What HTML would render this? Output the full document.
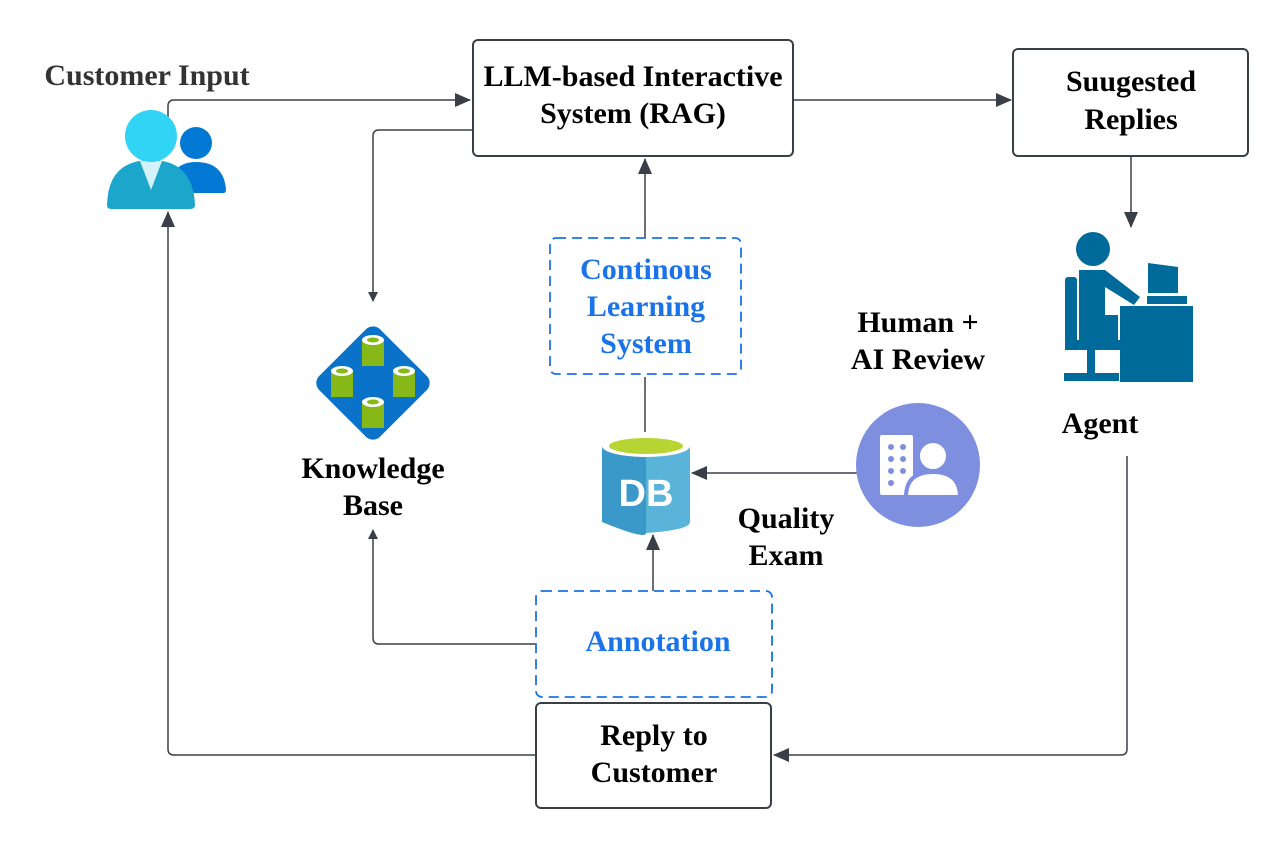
<!DOCTYPE html>
<html><head><meta charset="utf-8"><style>
body{margin:0;background:#fff;}
svg text{font-family:"Liberation Serif",serif;font-weight:bold;font-size:30px;text-anchor:middle;fill:#000;}
</style></head><body>
<svg width="1288" height="850" viewBox="0 0 1288 850" xmlns="http://www.w3.org/2000/svg">
<defs>
<marker id="a" markerWidth="10" markerHeight="10" refX="9" refY="5" orient="auto" markerUnits="userSpaceOnUse" viewBox="0 0 10 10">
<path d="M0,0 L10,5 L0,10 z" fill="#3a3f47"/></marker>
<marker id="b" markerWidth="16" markerHeight="14" refX="15" refY="7" orient="auto" markerUnits="userSpaceOnUse" viewBox="0 0 16 14">
<path d="M0,0 L16,7 L0,14 z" fill="#3a3f47"/></marker>
</defs>
<g fill="none" stroke="#3a3f47" stroke-width="1.5">
<path d="M168,133 V106 Q168,100 174,100 H470" marker-end="url(#b)"/>
<path d="M793,100 H1011" marker-end="url(#b)"/>
<path d="M1131,156 V227" marker-end="url(#b)"/>
<path d="M1127,456 V749 Q1127,755 1121,755 H774" marker-end="url(#b)"/>
<path d="M536,755 H174 Q168,755 168,749 V212" marker-end="url(#b)"/>
<path d="M473,130 H379 Q373,130 373,136 V301" marker-end="url(#a)"/>
<path d="M645,238 V159" marker-end="url(#b)"/>
<path d="M645,432 V377"/>
<path d="M857,473 H692" marker-end="url(#b)"/>
<path d="M653,591 V535" marker-end="url(#b)"/>
<path d="M536,644 H379 Q373,644 373,638 V530" marker-end="url(#a)"/>
</g>
<g fill="#fff" stroke="#3a3f47" stroke-width="2">
<rect x="473" y="40" width="320" height="116" rx="5"/>
<rect x="1013" y="49" width="235" height="107" rx="5"/>
<rect x="536" y="703" width="235" height="105" rx="5"/>
</g>
<g fill="#fff" stroke="#1a73e8" stroke-width="1.8" stroke-dasharray="10,6">
<rect x="550" y="238" width="191" height="136" rx="6"/>
<rect x="536" y="591" width="236" height="106" rx="6"/>
</g>
<text x="633" y="86">LLM-based Interactive</text>
<text x="633" y="123">System (RAG)</text>
<text x="1131" y="91">Suugested</text>
<text x="1131" y="129">Replies</text>
<text x="654" y="745">Reply to</text>
<text x="654" y="782">Customer</text>
<text x="646" y="279" style="fill:#1a73e8">Continous</text>
<text x="646" y="316" style="fill:#1a73e8">Learning</text>
<text x="646" y="353" style="fill:#1a73e8">System</text>
<text x="658" y="651" style="fill:#1a73e8">Annotation</text>
<text x="147" y="85" style="fill:#333">Customer Input</text>
<text x="918" y="332">Human +</text>
<text x="918" y="369">AI Review</text>
<text x="1100" y="433">Agent</text>
<text x="373" y="478">Knowledge</text>
<text x="373" y="515">Base</text>
<text x="786" y="528">Quality</text>
<text x="786" y="565">Exam</text>
<!-- customer icon -->
<circle cx="196" cy="143" r="16" fill="#0078d4"/>
<path d="M168,192 Q170,162 196,162 Q224,162 226,190 Q226,193 223,193 H170 Z" fill="#0078d4"/>
<path d="M107,205 Q108,160 151,160 Q193,160 195,205 Q195,209 190,209 H111 Q107,209 107,205 Z" fill="#1ca6cc"/>
<path d="M140,161 H162 L151,190 Z" fill="#d4f2fa"/>
<circle cx="151" cy="136" r="26" fill="#32d4f5"/>
<!-- KB diamond -->
<rect x="330" y="340" width="86" height="86" rx="10" fill="#0a72c9" transform="rotate(45 373 383)"/>
<g fill="#86b918">
<rect x="362" y="340" width="22" height="26"/><rect x="331" y="371" width="22" height="26"/>
<rect x="393" y="371" width="22" height="26"/><rect x="362" y="402" width="22" height="26"/></g>
<g fill="#fff"><ellipse cx="373" cy="340" rx="11" ry="5"/><ellipse cx="342" cy="371" rx="11" ry="5"/><ellipse cx="404" cy="371" rx="11" ry="5"/><ellipse cx="373" cy="402" rx="11" ry="5"/></g>
<g fill="#86b918"><ellipse cx="373" cy="340" rx="6" ry="2.5"/><ellipse cx="342" cy="371" rx="6" ry="2.5"/><ellipse cx="404" cy="371" rx="6" ry="2.5"/><ellipse cx="373" cy="402" rx="6" ry="2.5"/></g>
<!-- DB -->
<path d="M602,446 V522 Q646,540 646,533 V446 Z" fill="#3a99c8"/>
<path d="M646,446 V533 Q690,530 690,522 V446 Z" fill="#5ab4da"/>
<ellipse cx="646" cy="446" rx="44" ry="11" fill="#fff"/>
<ellipse cx="646" cy="446" rx="37" ry="8" fill="#b8d432"/>
<text x="646" y="506" style="font-family:'Liberation Sans',sans-serif;font-size:38px;fill:#fff">DB</text>
<!-- human review -->
<circle cx="918" cy="465" r="62" fill="#7f8fe0"/>
<rect x="880" y="435" width="33" height="60" rx="2" fill="#fff"/>
<g fill="#7f8fe0"><circle cx="891" cy="447" r="3"/><circle cx="903" cy="447" r="3"/><circle cx="891" cy="459" r="3"/><circle cx="903" cy="459" r="3"/><circle cx="891" cy="471" r="3"/><circle cx="903" cy="471" r="3"/><circle cx="891" cy="483" r="3"/></g>
<circle cx="933" cy="456" r="15" fill="#fff" stroke="#7f8fe0" stroke-width="4"/>
<path d="M906,497 Q906,472 933,472 Q960,472 960,497 Z" fill="#fff" stroke="#7f8fe0" stroke-width="4"/>
<!-- agent -->
<g fill="#006b9b">
<circle cx="1093" cy="249" r="17"/>
<rect x="1065" y="277" width="12" height="72" rx="3"/>
<path d="M1079,270 H1105 L1140,297 L1134,305 L1105,287 V315 H1118 V348 H1079 Z"/>
<rect x="1065" y="340" width="55" height="10"/>
<rect x="1087" y="350" width="8" height="25"/>
<rect x="1064" y="373" width="55" height="8"/>
<path d="M1148,263 L1178,267 V293 H1148 Z"/>
<rect x="1147" y="296" width="40" height="8"/>
<rect x="1120" y="306" width="73" height="76"/>
</g>
</svg>
</body></html>
